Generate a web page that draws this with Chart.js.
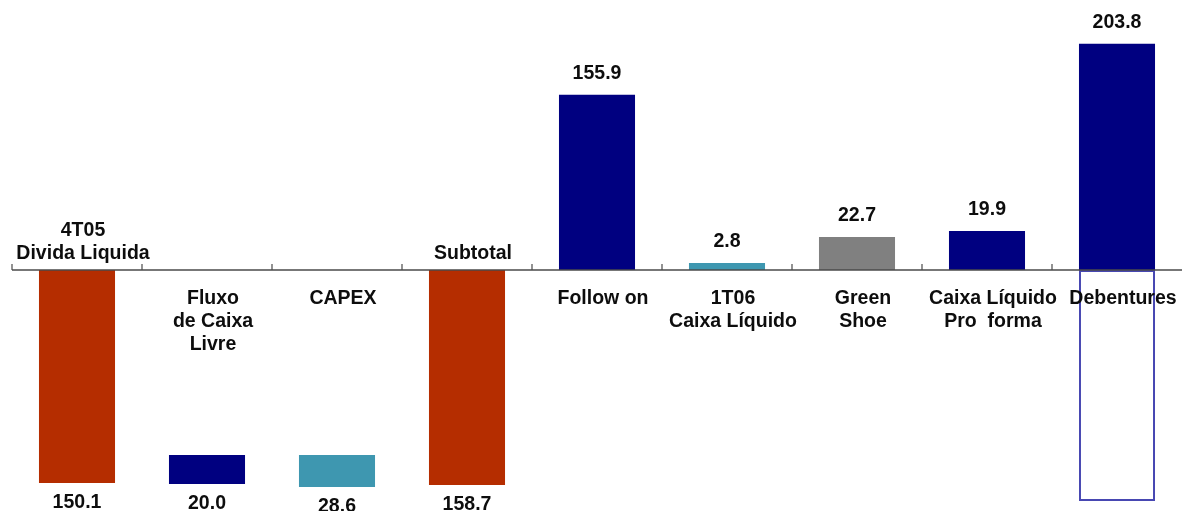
<!DOCTYPE html>
<html><head><meta charset="utf-8">
<script src="https://cdn.jsdelivr.net/npm/chart.js@4"></script>
<style>html,body{margin:0;padding:0;background:#fff;}#wrap{width:1187px;height:511px;position:relative;}</style>
</head><body><div id="wrap"><canvas id="c"></canvas></div>
<script>
// Category labels (multi-line)
const categories = [
  ["4T05", "Divida Liquida"],
  ["Fluxo", "de Caixa", "Livre"],
  ["CAPEX"],
  ["Subtotal"],
  ["Follow on"],
  ["1T06", "Caixa Líquido"],
  ["Green", "Shoe"],
  ["Caixa Líquido", "Pro  forma"],
  ["Debentures"]
];
const labelAbove = [true, false, false, true, false, false, false, false, false];
// Value labels as printed
const valueLabels = ["150.1", "20.0", "28.6", "158.7", "155.9", "2.8", "22.7", "19.9", "203.8"];
// Bar extents as drawn in the picture (floating bars)
const barStart = [0, -165.9, -165.9, 0, 0, 0, 0, 0, 0];
const barEnd = [-191.0, -191.9, -194.6, -192.8, 157.0, 6.3, 29.6, 35.0, 202.7];
// Outlined (empty) box under Debentures
const outlineStart = [null, null, null, null, null, null, null, null, 0];
const outlineEnd = [null, null, null, null, null, null, null, null, -207];

const ORANGE = '#B52D00', NAVY = '#000080', TEAL = '#3E97B0', GRAY = '#808080';
const barColors = [ORANGE, NAVY, TEAL, ORANGE, NAVY, TEAL, GRAY, NAVY, NAVY];

const FONT = 'bold 19.5px "Liberation Sans", Arial, sans-serif';

const annot = {
  id: 'annot',
  afterDatasetsDraw(chart) {
    const ctx = chart.ctx;
    const xs = chart.scales.x, ys = chart.scales.y;
    const y0 = ys.getPixelForValue(0);
    const ca = chart.chartArea;
    ctx.save();
    // axis line
    ctx.strokeStyle = '#4a4a4a';
    ctx.lineWidth = 1.5;
    ctx.beginPath();
    ctx.moveTo(ca.left, y0);
    ctx.lineTo(ca.right, y0);
    ctx.stroke();
    // ticks at category boundaries
    const n = categories.length;
    ctx.lineWidth = 1.2;
    for (let i = 0; i < n; i++) {
      let bx;
      if (i === 0) bx = ca.left;
      else bx = (xs.getPixelForValue(i - 1) + xs.getPixelForValue(i)) / 2;
      ctx.beginPath();
      ctx.moveTo(bx, y0);
      ctx.lineTo(bx, y0 - 6);
      ctx.stroke();
    }
    // text
    ctx.font = FONT;
    ctx.fillStyle = '#0d0d0d';
    ctx.textAlign = 'center';
    ctx.textBaseline = 'middle';
    const meta = chart.getDatasetMeta(0);
    const LH = 23;
    meta.data.forEach((bar, i) => {
      const top = Math.min(bar.y, bar.base), bottom = Math.max(bar.y, bar.base);
      if (barEnd[i] > 0) ctx.fillText(valueLabels[i], bar.x, top - 21);
      else ctx.fillText(valueLabels[i], bar.x, bottom + 20);
      const lines = categories[i];
      const cx = bar.x + 6;
      if (labelAbove[i]) {
        lines.forEach((t, k) => {
          ctx.fillText(t, cx, y0 - 16 - (lines.length - 1 - k) * LH);
        });
      } else {
        lines.forEach((t, k) => {
          ctx.fillText(t, cx, y0 + 29 + k * LH);
        });
      }
    });
    ctx.restore();
  }
};

new Chart(document.getElementById('c'), {
  type: 'bar',
  data: {
    labels: categories.map(c => c.join(' ')),
    datasets: [
      {
        data: barStart.map((s, i) => [s, barEnd[i]]),
        backgroundColor: barColors,
        borderWidth: 0,
        grouped: false,
        order: 1
      },
      {
        data: outlineStart.map((s, i) => s === null ? null : [s, outlineEnd[i]]),
        backgroundColor: 'rgba(255,255,255,0)',
        borderColor: '#4747B2',
        borderWidth: 2,
        borderSkipped: false,
        grouped: false,
        order: 2
      }
    ]
  },
  options: {
    responsive: true,
    maintainAspectRatio: false,
    animation: false,
    layout: { padding: { left: 12, right: 5, top: 0, bottom: 0 } },
    datasets: { bar: { barPercentage: 1, categoryPercentage: 0.585 } },
    plugins: { legend: { display: false }, tooltip: { enabled: false } },
    scales: {
      x: { display: false, offset: true },
      y: { display: false, min: -216, max: 242 }
    }
  },
  plugins: [annot]
});
</script>
</body></html>
